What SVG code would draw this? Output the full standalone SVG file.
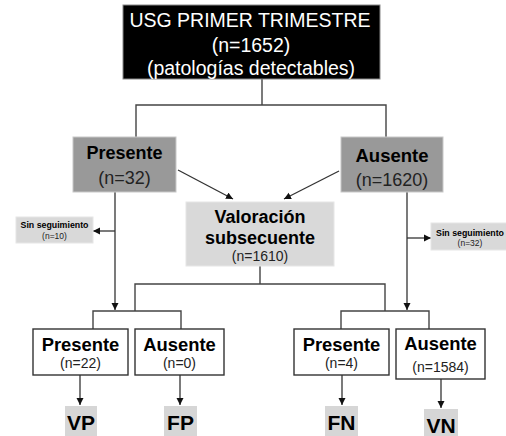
<svg xmlns="http://www.w3.org/2000/svg" width="506" height="436" viewBox="0 0 506 436">
<defs>
<marker id="ah" markerWidth="8" markerHeight="8" refX="7" refY="4" orient="auto" markerUnits="userSpaceOnUse">
<path d="M0,0.5 L7,4 L0,7.5 Z" fill="#111"/>
</marker>
<style>
text{font-family:"Liberation Sans",Arial,sans-serif;text-anchor:middle}
.b{font-weight:bold}
.ln{fill:none;stroke:#444;stroke-width:1.4}
.ar{fill:none;stroke:#333;stroke-width:1.3;marker-end:url(#ah)}
.wb{fill:#fff;stroke:#333;stroke-width:1.4}
.gb{fill:#999;stroke:#c8c8c8;stroke-width:1}
.lb{fill:#d9d9d9;stroke:#e6e6e6;stroke-width:1}
</style>
</defs>
<rect width="506" height="436" fill="#fff"/>
<g id="connectors">
<path class="ln" d="M262,79 V105 M136,137 V105 H386 V137"/>
<line class="ar" x1="178" y1="170" x2="233" y2="199"/>
<line class="ar" x1="339" y1="171" x2="284" y2="199"/>
<line class="ar" x1="115" y1="192" x2="115" y2="310"/>
<line class="ar" x1="115" y1="231" x2="93" y2="231"/>
<line class="ar" x1="407" y1="192" x2="407" y2="310"/>
<line class="ar" x1="407" y1="238" x2="431" y2="238"/>
<path class="ln" d="M260,266 V284 M135,311 V284 H385 V311"/>
<path class="ln" d="M93,329 V311 H181 V329"/>
<path class="ln" d="M341,329 V311 H429 V329"/>
<line class="ar" x1="80" y1="375" x2="80" y2="405"/>
<line class="ar" x1="180" y1="375" x2="180" y2="405"/>
<line class="ar" x1="342" y1="375" x2="342" y2="405"/>
<line class="ar" x1="441" y1="379" x2="441" y2="408"/>
</g>
<g id="top">
<rect x="123" y="5" width="257" height="74" fill="#000" stroke="#888" stroke-width="1"/>
<text x="250" y="27" font-size="19.5" fill="#fff">USG PRIMER TRIMESTRE</text>
<text x="251" y="52" font-size="19.5" fill="#fff">(n=1652)</text>
<text x="251" y="75" font-size="19.5" fill="#fff">(patologías detectables)</text>
</g>
<g id="presente1">
<rect class="gb" x="73" y="137" width="103" height="55"/>
<text x="124.5" y="159" font-size="18" class="b">Presente</text>
<text x="124.5" y="184" font-size="18" fill="#222">(n=32)</text>
</g>
<g id="ausente1">
<rect class="gb" x="341" y="137" width="102" height="55"/>
<text x="392" y="162" font-size="18.5" class="b">Ausente</text>
<text x="392" y="186" font-size="18" fill="#222">(n=1620)</text>
</g>
<g id="valoracion">
<rect class="lb" x="186" y="202" width="148" height="64"/>
<text x="260" y="223" font-size="18" class="b">Valoración</text>
<text x="260" y="244" font-size="18" class="b">subsecuente</text>
<text x="260" y="261" font-size="14" fill="#222">(n=1610)</text>
</g>
<g id="sinseg1">
<rect class="lb" x="16" y="217" width="77" height="26"/>
<text x="54.5" y="228" font-size="8.8" class="b">Sin seguimiento</text>
<text x="54.5" y="239" font-size="8.5" fill="#222">(n=10)</text>
</g>
<g id="sinseg2">
<rect class="lb" x="431" y="223" width="76" height="27"/>
<text x="470" y="236" font-size="8.8" class="b">Sin seguimiento</text>
<text x="470" y="246" font-size="8.5" fill="#222">(n=32)</text>
</g>
<g id="presente2">
<rect class="wb" x="33" y="329" width="95" height="46"/>
<text x="80.5" y="351" font-size="18.4" class="b">Presente</text>
<text x="80.5" y="368" font-size="14" fill="#222">(n=22)</text>
</g>
<g id="ausente2">
<rect class="wb" x="135" y="329" width="89" height="46"/>
<text x="179.5" y="351" font-size="18.4" class="b">Ausente</text>
<text x="179.5" y="368" font-size="14" fill="#222">(n=0)</text>
</g>
<g id="presente3">
<rect class="wb" x="294" y="329" width="95" height="46"/>
<text x="341.5" y="351" font-size="18.4" class="b">Presente</text>
<text x="341.5" y="368" font-size="14" fill="#222">(n=4)</text>
</g>
<g id="ausente3">
<rect class="wb" x="396" y="329" width="89" height="50"/>
<text x="440.5" y="350" font-size="18.4" class="b">Ausente</text>
<text x="440.5" y="372" font-size="14" fill="#222">(n=1584)</text>
</g>
<g id="vp">
<rect x="65" y="406" width="32" height="30" fill="#d6d6d6"/>
<text x="81" y="430" font-size="21" class="b">VP</text>
</g>
<g id="fp">
<rect x="164" y="406" width="33" height="30" fill="#d6d6d6"/>
<text x="180.5" y="430" font-size="21" class="b">FP</text>
</g>
<g id="fn">
<rect x="325" y="406" width="33" height="30" fill="#d6d6d6"/>
<text x="341.5" y="430" font-size="21" class="b">FN</text>
</g>
<g id="vn">
<rect x="424" y="409" width="34" height="27" fill="#d6d6d6"/>
<text x="441" y="433" font-size="21" class="b">VN</text>
</g>
</svg>
